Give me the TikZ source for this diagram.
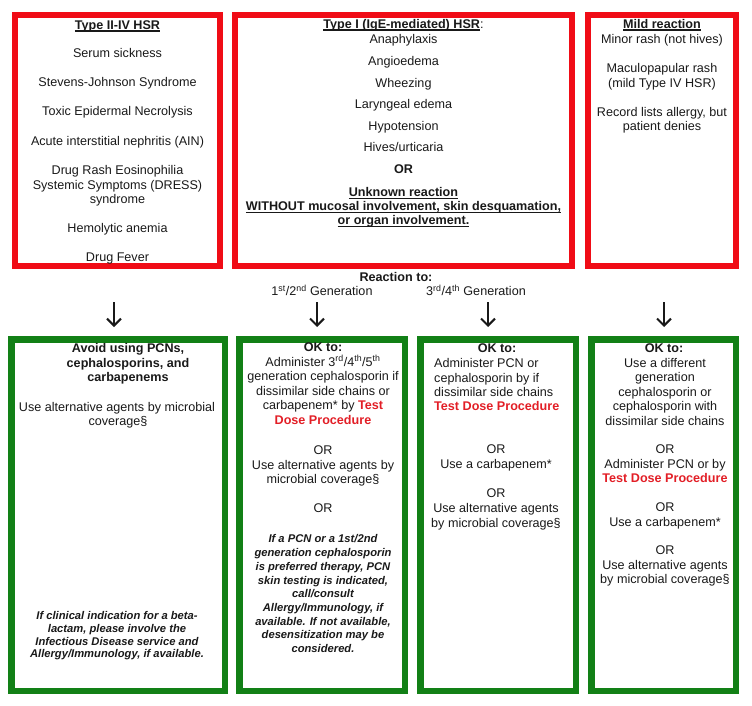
\documentclass[tikz,border=0pt]{standalone}
\usepackage{fontspec}
\setmainfont{Liberation Sans}
\usetikzlibrary{arrows.meta}
\definecolor{boxred}{RGB}{240,12,22}
\definecolor{boxgreen}{RGB}{18,128,22}
\definecolor{txtred}{RGB}{226,30,38}
\definecolor{ink}{RGB}{25,25,25}
\newcommand\ulb[1]{\begingroup\setbox0\hbox{#1}\rlap{\rule[-2.2pt]{\wd0}{1.2pt}}\box0\endgroup}
\newcommand\tline[5][txt]{\node[#1] (#2) at (#3,#4) {#5};}
\newcommand\tdp{\textcolor{txtred}{\bfseries Test Dose Procedure}}
\begin{document}
\begin{tikzpicture}[x=1pt,y=-1pt,
 redbox/.style={draw=boxred,line width=5.6pt,inner sep=0pt,rectangle},
 greenbox/.style={draw=boxgreen,line width=6.5pt,inner sep=0pt,rectangle},
 txt/.style={inner sep=0pt,anchor=base,text=ink,font=\fontsize{12.6}{14.5}\selectfont},
 bt/.style={txt,font=\fontsize{12.6}{14.5}\selectfont\bfseries},
 it/.style={txt,font=\fontsize{11.2}{13}\selectfont\bfseries\itshape},
 lt/.style={txt,anchor=base west},
 arr/.style={draw=ink,line width=2pt,-{Straight Barb[length=7pt,width=14pt]}}]
\useasboundingbox (0,0) rectangle (752,706);
% top boxes
\node[redbox,minimum width=205.4pt,minimum height=251.4pt] (b1) at (117.5,140.5) {};
\node[redbox,minimum width=337.4pt,minimum height=251.4pt] (b2) at (403.5,140.5) {};
\node[redbox,minimum width=148.4pt,minimum height=251.4pt] (b3) at (662,140.5) {};
% bottom boxes
\node[greenbox,minimum width=213.5pt,minimum height=351.5pt] (c1) at (118,515) {};
\node[greenbox,minimum width=165.5pt,minimum height=351.5pt] (c2) at (322,515) {};
\node[greenbox,minimum width=155.5pt,minimum height=351.5pt] (c3) at (498,515) {};
\node[greenbox,minimum width=144.5pt,minimum height=351.5pt] (c4) at (663.5,515) {};
% box 1 text
\tline[bt]{a0}{117.5}{29.5}{\ulb{Type II-IV HSR}}
\tline{a1}{117.5}{57.5}{Serum sickness}
\tline{a2}{117.5}{86.5}{Stevens-Johnson Syndrome}
\tline{a3}{117.5}{115.5}{Toxic Epidermal Necrolysis}
\tline{a4}{117.5}{145.5}{Acute interstitial nephritis (AIN)}
\tline{a5}{117.5}{174.5}{Drug Rash Eosinophilia}
\tline{a6}{117.5}{189}{Systemic Symptoms (DRESS)}
\tline{a7}{117.5}{203.5}{syndrome}
\tline{a8}{117.5}{232.5}{Hemolytic anemia}
\tline{a9}{117.5}{261.5}{Drug Fever}
% box 2 text
\tline{m0}{403.5}{28.5}{\ulb{\bfseries Type I (IgE-mediated) HSR}:}
\tline{m1}{403.5}{43.5}{Anaphylaxis}
\tline{m2}{403.5}{65.5}{Angioedema}
\tline{m3}{403.5}{87.5}{Wheezing}
\tline{m4}{403.5}{108.5}{Laryngeal edema}
\tline{m5}{403.5}{130.5}{Hypotension}
\tline{m6}{403.5}{151.5}{Hives/urticaria}
\tline[bt]{m7}{403.5}{173.5}{OR}
\tline[bt]{m8}{403.5}{196.5}{\ulb{Unknown reaction}}
\tline[bt]{m9}{403.5}{210.5}{\ulb{WITHOUT mucosal involvement, skin desquamation,}}
\tline[bt]{m10}{403.5}{224.5}{\ulb{or organ involvement.}}
% box 3 text
\tline[bt]{r0}{662}{28.5}{\ulb{Mild reaction}}
\tline{r1}{662}{43.5}{Minor rash (not hives)}
\tline{r2}{662}{72.5}{Maculopapular rash}
\tline{r3}{662}{87.5}{(mild Type IV HSR)}
\tline{r4}{662}{116.5}{Record lists allergy, but}
\tline{r5}{662}{130.5}{patient denies}
% middle labels
\tline[bt]{x0}{396}{281.5}{Reaction to:}
\tline{x1}{322}{295.5}{1\textsuperscript{st}/2\textsuperscript{nd} Generation}
\tline{x2}{476}{295.5}{3\textsuperscript{rd}/4\textsuperscript{th} Generation}
% arrows
\coordinate (p1) at (114,302); \coordinate (q1) at (114,327);
\coordinate (p2) at (317,302); \coordinate (q2) at (317,327);
\coordinate (p3) at (488,302); \coordinate (q3) at (488,327);
\coordinate (p4) at (664,302); \coordinate (q4) at (664,327);
\draw[arr] (p1) -- (q1);
\draw[arr] (p2) -- (q2);
\draw[arr] (p3) -- (q3);
\draw[arr] (p4) -- (q4);
% bottom box 1
\tline[bt]{d0}{128}{352.5}{Avoid using PCNs,}
\tline[bt]{d1}{128}{367}{cephalosporins, and}
\tline[bt]{d2}{128}{381.5}{carbapenems}
\tline{d3}{117}{411.5}{Use alternative agents by microbial}
\tline{d4}{118}{425.5}{coverage§}
\tline[it]{d5}{117}{619}{If clinical indication for a beta-}
\tline[it]{d6}{117}{632}{lactam, please involve the}
\tline[it]{d7}{117}{645}{Infectious Disease service and}
\tline[it]{d8}{117}{657.5}{Allergy/Immunology, if available.}
% bottom box 2
\tline[bt]{e0}{323}{351.5}{OK to:}
\tline{e1}{323}{366}{Administer 3\textsuperscript{rd}/4\textsuperscript{th}/5\textsuperscript{th}}
\tline{e2}{323}{380.5}{generation cephalosporin if}
\tline{e3}{323}{395}{dissimilar side chains or}
\tline{e4}{323}{409.5}{carbapenem* by \textcolor{txtred}{\bfseries Test}}
\tline{e5}{323}{424}{\textcolor{txtred}{\bfseries Dose Procedure}}
\tline{e6}{323}{454.5}{OR}
\tline{e7}{323}{469}{Use alternative agents by}
\tline{e8}{323}{483.5}{microbial coverage§}
\tline{e9}{323}{512.5}{OR}
\tline[it]{e10}{323}{542.5}{If a PCN or a 1st/2nd}
\tline[it]{e11}{323}{556.5}{generation cephalosporin}
\tline[it]{e12}{323}{570.5}{is preferred therapy, PCN}
\tline[it]{e13}{323}{584.5}{skin testing is indicated,}
\tline[it]{e14}{323}{597.5}{call/consult}
\tline[it]{e15}{323}{611.5}{Allergy/Immunology, if}
\tline[it]{e16}{323}{625.5}{available. If not available,}
\tline[it]{e17}{323}{638.5}{desensitization may be}
\tline[it]{e18}{323}{652.5}{considered.}
% bottom box 3
\tline[bt]{f0}{497}{352.5}{OK to:}
\tline[lt]{f1}{434}{367.5}{Administer PCN or}
\tline[lt]{f2}{434}{382}{cephalosporin by if}
\tline[lt]{f3}{434}{396.5}{dissimilar side chains}
\tline[lt]{f4}{434}{410.5}{\tdp}
\tline{f5}{496}{453.5}{OR}
\tline{f6}{496}{468.5}{Use a carbapenem*}
\tline{f7}{496}{497.5}{OR}
\tline{f8}{496}{512.5}{Use alternative agents}
\tline{f9}{496}{527.5}{by microbial coverage§}
% bottom box 4
\tline[bt]{g0}{664}{352.5}{OK to:}
\tline{g1}{665}{367}{Use a different}
\tline{g2}{665}{381.5}{generation}
\tline{g3}{665}{396}{cephalosporin or}
\tline{g4}{665}{410.5}{cephalosporin with}
\tline{g5}{665}{425}{dissimilar side chains}
\tline{g6}{665}{453.5}{OR}
\tline{g7}{665}{468.5}{Administer PCN or by}
\tline{g8}{665}{482.5}{\tdp}
\tline{g9}{665}{511.5}{OR}
\tline{g10}{665}{526.5}{Use a carbapenem*}
\tline{g11}{665}{554.5}{OR}
\tline{g12}{665}{569.5}{Use alternative agents}
\tline{g13}{665}{583.5}{by microbial coverage§}
\end{tikzpicture}
\end{document}
